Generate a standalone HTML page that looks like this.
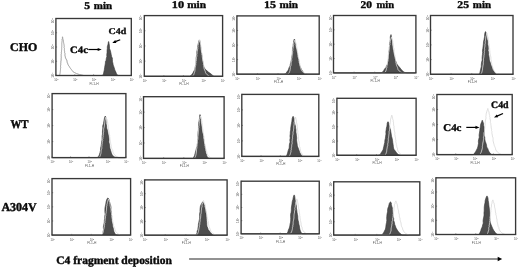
<!DOCTYPE html>
<html><head><meta charset="utf-8"><style>
html,body{margin:0;padding:0;background:#fff;}
body{width:520px;height:267px;overflow:hidden;}
svg{display:block;filter:blur(0.5px);}
.tk{font-family:"Liberation Sans",sans-serif;font-size:3.3px;fill:#5a5a5a;}
.sup{font-size:2.3px;}
.tk2{font-family:"Liberation Sans",sans-serif;font-size:2.7px;fill:#505050;}
.tm{stroke:#555;stroke-width:0.6;}
.lbl{font-family:"Liberation Serif",serif;font-weight:bold;font-size:100px;fill:#0a0a0a;stroke:#0a0a0a;stroke-width:3.5px;stroke-linejoin:round;text-rendering:geometricPrecision;}
</style></head><body>
<svg width="520" height="267" viewBox="0 0 520 267">
<rect width="520" height="267" fill="#fff"/>
<text x="56.5" y="81.1" class="tk2" text-anchor="middle">10<tspan dy="-1.1" class="sup">0</tspan></text>
<line x1="55.9" y1="75.5" x2="55.9" y2="74.3" class="tm"/>
<text x="75.35" y="81.1" class="tk2" text-anchor="middle">10<tspan dy="-1.1" class="sup">1</tspan></text>
<line x1="74.75" y1="75.5" x2="74.75" y2="74.3" class="tm"/>
<text x="94.2" y="81.1" class="tk2" text-anchor="middle">10<tspan dy="-1.1" class="sup">2</tspan></text>
<line x1="93.6" y1="75.5" x2="93.6" y2="74.3" class="tm"/>
<text x="113.05" y="81.1" class="tk2" text-anchor="middle">10<tspan dy="-1.1" class="sup">3</tspan></text>
<line x1="112.45" y1="75.5" x2="112.45" y2="74.3" class="tm"/>
<text x="131.9" y="81.1" class="tk2" text-anchor="middle">10<tspan dy="-1.1" class="sup">4</tspan></text>
<line x1="131.3" y1="75.5" x2="131.3" y2="74.3" class="tm"/>
<text x="94.1" y="84.5" class="tk" text-anchor="middle">FL1-H</text>
<text transform="translate(53.9 75.3) rotate(-90)" class="tk" text-anchor="middle">10<tspan dy="-0.9" class="sup">0</tspan></text>
<line x1="55.9" y1="75.5" x2="57.1" y2="75.5" class="tm"/>
<text transform="translate(53.9 61.05) rotate(-90)" class="tk" text-anchor="middle">10<tspan dy="-0.9" class="sup">1</tspan></text>
<line x1="55.9" y1="61.25" x2="57.1" y2="61.25" class="tm"/>
<text transform="translate(53.9 46.8) rotate(-90)" class="tk" text-anchor="middle">10<tspan dy="-0.9" class="sup">2</tspan></text>
<line x1="55.9" y1="47" x2="57.1" y2="47" class="tm"/>
<text transform="translate(53.9 32.55) rotate(-90)" class="tk" text-anchor="middle">10<tspan dy="-0.9" class="sup">3</tspan></text>
<line x1="55.9" y1="32.75" x2="57.1" y2="32.75" class="tm"/>
<text transform="translate(53.9 20.8) rotate(-90)" class="tk" text-anchor="middle">10<tspan dy="-0.9" class="sup">4</tspan></text>
<line x1="55.9" y1="18.5" x2="57.1" y2="18.5" class="tm"/>
<path d="M56.5 75.5 L101 75.5 L101.34 75.45 L101.83 75.46 L102.39 75.36 L102.96 74.93 L103.45 74 L103.75 72.31 L104.31 69.98 L104.61 67.4 L105.08 64.95 L105.41 63 L105.41 61.74 L105.62 60.91 L106.24 60.24 L106.14 59.46 L106.32 58.3 L106.87 56.64 L106.75 54.66 L107.07 52.53 L107.05 50.45 L107.32 48.6 L107.31 46.79 L107.83 44.89 L108.23 43.19 L108.33 41.97 L108.6 41.5 L108.82 41.97 L109.02 43.19 L109.32 44.89 L109.52 46.79 L109.53 48.6 L110.33 50.45 L110.8 52.53 L111.24 54.66 L111.63 56.64 L112.43 58.3 L112.39 59.46 L112.5 60.24 L112.53 60.91 L112.49 61.74 L112.86 63 L113.16 64.95 L114.13 67.4 L114.83 69.98 L115.96 72.31 L116.55 74 L117.32 74.93 L118.13 75.36 L118.89 75.46 L119.54 75.45 L120 75.5 L130.7 75.5 Z" fill="#4e4e4e" stroke="#353535" stroke-width="0.6" stroke-linejoin="round"/>
<path d="M56.5 75.5 L59.38 75.5 L59.81 74.53 L60.03 73.56 L60.16 72.6 L60.29 71.63 L60.38 70.66 L60.49 69.69 L60.48 68.73 L60.73 67.76 L60.56 66.79 L60.52 65.83 L60.8 64.86 L60.68 63.89 L60.89 62.92 L60.83 61.95 L60.96 60.99 L61.15 60.02 L61.14 59.05 L61.15 58.09 L61.3 57.12 L61.12 56.15 L61.21 55.18 L61.13 54.21 L61.48 53.25 L61.3 52.28 L61.56 51.31 L61.56 50.34 L61.68 49.38 L61.71 48.41 L61.68 47.44 L61.8 46.47 L61.79 45.51 L61.81 44.54 L61.77 43.57 L61.89 42.6 L61.99 41.64 L62.18 40.67 L61.98 39.7 L62.4 38.73 L62.37 37.77 L62.5 36.8 L62.73 37.77 L62.81 38.73 L63.09 39.7 L63.41 40.67 L63.46 41.64 L63.6 42.6 L63.78 43.57 L64.01 44.54 L64.13 45.51 L64.26 46.47 L64.03 47.44 L64.45 48.41 L64.4 49.38 L64.36 50.34 L64.61 51.31 L64.51 52.28 L64.98 53.25 L65.01 54.21 L64.86 55.18 L65.21 56.15 L65.27 57.12 L65.62 58.09 L66.09 59.05 L66.7 60.02 L67.05 60.99 L67.04 61.95 L67.37 62.92 L67.87 63.89 L68.12 64.86 L68.76 65.83 L69.51 66.79 L69.99 67.76 L70.76 68.73 L71.51 69.69 L72.23 70.66 L72.9 71.63 L74.66 72.6 L76.41 73.56 L79.34 74.53 L83.82 75.5 L130.7 75.5" fill="none" stroke="#a0a0a0" stroke-width="1" stroke-linejoin="round"/>
<rect x="55.9" y="18.5" width="75.4" height="57" fill="none" stroke="#383838" stroke-width="1.35"/>
<text x="144.9" y="81.9" class="tk2" text-anchor="middle">10<tspan dy="-1.1" class="sup">0</tspan></text>
<line x1="144.3" y1="76.3" x2="144.3" y2="75.1" class="tm"/>
<text x="164.47" y="81.9" class="tk2" text-anchor="middle">10<tspan dy="-1.1" class="sup">1</tspan></text>
<line x1="163.88" y1="76.3" x2="163.88" y2="75.1" class="tm"/>
<text x="184.05" y="81.9" class="tk2" text-anchor="middle">10<tspan dy="-1.1" class="sup">2</tspan></text>
<line x1="183.45" y1="76.3" x2="183.45" y2="75.1" class="tm"/>
<text x="203.62" y="81.9" class="tk2" text-anchor="middle">10<tspan dy="-1.1" class="sup">3</tspan></text>
<line x1="203.03" y1="76.3" x2="203.03" y2="75.1" class="tm"/>
<text x="223.2" y="81.9" class="tk2" text-anchor="middle">10<tspan dy="-1.1" class="sup">4</tspan></text>
<line x1="222.6" y1="76.3" x2="222.6" y2="75.1" class="tm"/>
<text x="183.95" y="85.3" class="tk" text-anchor="middle">FL1-H</text>
<text transform="translate(142.3 76.1) rotate(-90)" class="tk" text-anchor="middle">10<tspan dy="-0.9" class="sup">0</tspan></text>
<line x1="144.3" y1="76.3" x2="145.5" y2="76.3" class="tm"/>
<text transform="translate(142.3 60.92) rotate(-90)" class="tk" text-anchor="middle">10<tspan dy="-0.9" class="sup">1</tspan></text>
<line x1="144.3" y1="61.12" x2="145.5" y2="61.12" class="tm"/>
<text transform="translate(142.3 45.75) rotate(-90)" class="tk" text-anchor="middle">10<tspan dy="-0.9" class="sup">2</tspan></text>
<line x1="144.3" y1="45.95" x2="145.5" y2="45.95" class="tm"/>
<text transform="translate(142.3 30.57) rotate(-90)" class="tk" text-anchor="middle">10<tspan dy="-0.9" class="sup">3</tspan></text>
<line x1="144.3" y1="30.77" x2="145.5" y2="30.77" class="tm"/>
<text transform="translate(142.3 17.9) rotate(-90)" class="tk" text-anchor="middle">10<tspan dy="-0.9" class="sup">4</tspan></text>
<line x1="144.3" y1="15.6" x2="145.5" y2="15.6" class="tm"/>
<path d="M144.9 76.3 L189.7 76.3 L190.02 76.05 L190.48 75.72 L191.01 75.3 L191.59 74.73 L192.15 74 L192.96 73.1 L193.4 72.06 L194.02 70.87 L194.77 69.52 L195.02 68 L195.41 66.26 L196 64.29 L195.97 62.19 L196.17 60.06 L196.11 58 L196.52 55.97 L196.8 53.91 L196.71 51.86 L197.24 49.88 L197.52 48 L197.58 46 L198.27 43.85 L198.61 41.88 L199.04 40.45 L199.4 39.9 L199.69 40.45 L200.03 41.88 L200.09 43.85 L200.5 46 L200.77 48 L200.68 49.88 L200.97 51.86 L201.57 53.91 L202.03 55.97 L202.03 58 L202.47 60.06 L202.85 62.19 L203.09 64.29 L203.63 66.26 L204.36 68 L205.49 69.52 L207 70.87 L208.37 72.06 L209.83 73.1 L211.05 74 L211.92 74.73 L212.63 75.3 L213.21 75.72 L213.66 76.05 L214 76.3 L222 76.3 Z" fill="#4e4e4e" stroke="#353535" stroke-width="0.6" stroke-linejoin="round"/>
<path d="M144.9 76.3 L192.3 76.3 L193.3 75.39 L193.8 74.48 L194.1 73.58 L194.4 72.67 L194.73 71.76 L194.88 70.85 L195 69.95 L195.08 69.04 L195.09 68.13 L195.28 67.22 L195.54 66.32 L195.69 65.41 L195.87 64.5 L195.79 63.59 L196.08 62.69 L195.85 61.78 L196.33 60.87 L196.24 59.97 L196.32 59.06 L196.62 58.15 L196.46 57.24 L196.84 56.33 L196.94 55.43 L196.8 54.52 L197.16 53.61 L197.15 52.7 L197.14 51.8 L197.51 50.89 L197.39 49.98 L197.71 49.08 L197.83 48.17 L197.75 47.26 L198.03 46.35 L197.95 45.45 L198.33 44.54 L198.26 43.63 L198.65 42.72 L199.03 41.82 L199.21 40.91 L199.5 40 L199.77 40.91 L199.85 41.82 L200.4 42.72 L200.47 43.63 L200.6 44.54 L200.79 45.45 L200.78 46.35 L200.99 47.26 L201.16 48.17 L201.17 49.08 L201.48 49.98 L201.52 50.89 L201.51 51.8 L201.66 52.7 L202.04 53.61 L201.93 54.52 L202.2 55.43 L202.2 56.33 L202.3 57.24 L202.41 58.15 L202.6 59.06 L202.73 59.97 L202.77 60.87 L203.22 61.78 L203.37 62.69 L203.49 63.59 L203.33 64.5 L203.71 65.41 L203.72 66.32 L203.79 67.22 L203.95 68.13 L204.31 69.04 L204.49 69.95 L205.03 70.85 L205.38 71.76 L205.5 72.67 L206.18 73.58 L206.85 74.48 L207.97 75.39 L209.7 76.3 L222 76.3" fill="none" stroke="#d9d9d9" stroke-width="0.85" stroke-linejoin="round"/>
<rect x="144.3" y="15.6" width="78.3" height="60.7" fill="none" stroke="#383838" stroke-width="1.35"/>
<text x="237.5" y="79.8" class="tk2" text-anchor="middle">10<tspan dy="-1.1" class="sup">0</tspan></text>
<line x1="236.9" y1="74.2" x2="236.9" y2="73" class="tm"/>
<text x="258.08" y="79.8" class="tk2" text-anchor="middle">10<tspan dy="-1.1" class="sup">1</tspan></text>
<line x1="257.48" y1="74.2" x2="257.48" y2="73" class="tm"/>
<text x="278.65" y="79.8" class="tk2" text-anchor="middle">10<tspan dy="-1.1" class="sup">2</tspan></text>
<line x1="278.05" y1="74.2" x2="278.05" y2="73" class="tm"/>
<text x="299.23" y="79.8" class="tk2" text-anchor="middle">10<tspan dy="-1.1" class="sup">3</tspan></text>
<line x1="298.62" y1="74.2" x2="298.62" y2="73" class="tm"/>
<text x="319.8" y="79.8" class="tk2" text-anchor="middle">10<tspan dy="-1.1" class="sup">4</tspan></text>
<line x1="319.2" y1="74.2" x2="319.2" y2="73" class="tm"/>
<text x="278.55" y="83.2" class="tk" text-anchor="middle">FL1-H</text>
<text transform="translate(234.9 74) rotate(-90)" class="tk" text-anchor="middle">10<tspan dy="-0.9" class="sup">0</tspan></text>
<line x1="236.9" y1="74.2" x2="238.1" y2="74.2" class="tm"/>
<text transform="translate(234.9 59.42) rotate(-90)" class="tk" text-anchor="middle">10<tspan dy="-0.9" class="sup">1</tspan></text>
<line x1="236.9" y1="59.62" x2="238.1" y2="59.62" class="tm"/>
<text transform="translate(234.9 44.85) rotate(-90)" class="tk" text-anchor="middle">10<tspan dy="-0.9" class="sup">2</tspan></text>
<line x1="236.9" y1="45.05" x2="238.1" y2="45.05" class="tm"/>
<text transform="translate(234.9 30.28) rotate(-90)" class="tk" text-anchor="middle">10<tspan dy="-0.9" class="sup">3</tspan></text>
<line x1="236.9" y1="30.48" x2="238.1" y2="30.48" class="tm"/>
<text transform="translate(234.9 18.2) rotate(-90)" class="tk" text-anchor="middle">10<tspan dy="-0.9" class="sup">4</tspan></text>
<line x1="236.9" y1="15.9" x2="238.1" y2="15.9" class="tm"/>
<path d="M237.5 74.2 L283.8 74.2 L284.11 74.1 L284.54 74 L285.06 73.82 L285.64 73.45 L286.25 72.8 L286.94 71.83 L287.93 70.6 L288.58 69.18 L289.06 67.63 L290.07 66 L290.29 64.27 L290.78 62.4 L291.32 60.43 L291.56 58.42 L291.81 56.4 L292.34 54.32 L292.39 52.13 L292.44 49.95 L292.6 47.88 L293.13 46 L293.21 44.16 L293.67 42.28 L293.76 40.63 L294.13 39.45 L294.4 39 L294.62 39.45 L294.64 40.63 L294.98 42.28 L295.33 44.16 L295.29 46 L295.96 47.88 L296.45 49.95 L296.86 52.13 L297.35 54.32 L297.4 56.4 L298.14 58.42 L298.67 60.43 L298.69 62.4 L299.28 64.27 L299.83 66 L300.64 67.63 L301.35 69.18 L302.18 70.6 L303 71.83 L303.75 72.8 L304.49 73.45 L305.25 73.82 L305.96 74 L306.57 74.1 L307 74.2 L318.6 74.2 Z" fill="#4e4e4e" stroke="#353535" stroke-width="0.6" stroke-linejoin="round"/>
<path d="M237.5 74.2 L287.8 74.2 L288.8 73.34 L289.3 72.49 L289.6 71.64 L289.9 70.78 L290.21 69.92 L290.06 69.07 L290.49 68.22 L290.34 67.36 L290.54 66.5 L290.95 65.65 L291.09 64.8 L291.15 63.94 L291.05 63.09 L291.22 62.23 L291.59 61.38 L291.72 60.52 L291.63 59.66 L291.6 58.81 L291.9 57.95 L291.98 57.1 L292.07 56.25 L292.21 55.39 L292.29 54.54 L292.55 53.68 L292.65 52.83 L292.59 51.97 L292.58 51.11 L292.94 50.26 L292.81 49.41 L292.94 48.55 L293.23 47.7 L293.26 46.84 L293.38 45.98 L293.41 45.13 L293.89 44.27 L293.68 43.42 L293.95 42.56 L294.53 41.71 L294.71 40.86 L295 40 L295.31 40.86 L295.41 41.71 L295.77 42.56 L296.05 43.42 L296.5 44.27 L296.5 45.13 L296.56 45.98 L296.83 46.84 L296.85 47.7 L296.97 48.55 L297.2 49.41 L297.26 50.26 L297.32 51.11 L297.63 51.97 L297.67 52.83 L297.91 53.68 L297.94 54.54 L298.21 55.39 L298.34 56.25 L298.3 57.1 L298.63 57.95 L298.68 58.81 L299.01 59.66 L298.96 60.52 L299.28 61.38 L299.3 62.23 L299.6 63.09 L299.78 63.94 L299.84 64.8 L299.96 65.65 L300.28 66.5 L300.41 67.36 L300.68 68.22 L301.02 69.07 L301.36 69.92 L301.8 70.78 L302.56 71.64 L303.33 72.49 L304.61 73.34 L306.56 74.2 L318.6 74.2" fill="none" stroke="#d9d9d9" stroke-width="0.85" stroke-linejoin="round"/>
<rect x="236.9" y="15.9" width="82.3" height="58.3" fill="none" stroke="#383838" stroke-width="1.35"/>
<text x="334.1" y="78.5" class="tk2" text-anchor="middle">10<tspan dy="-1.1" class="sup">0</tspan></text>
<line x1="333.5" y1="72.9" x2="333.5" y2="71.7" class="tm"/>
<text x="354.7" y="78.5" class="tk2" text-anchor="middle">10<tspan dy="-1.1" class="sup">1</tspan></text>
<line x1="354.1" y1="72.9" x2="354.1" y2="71.7" class="tm"/>
<text x="375.3" y="78.5" class="tk2" text-anchor="middle">10<tspan dy="-1.1" class="sup">2</tspan></text>
<line x1="374.7" y1="72.9" x2="374.7" y2="71.7" class="tm"/>
<text x="395.9" y="78.5" class="tk2" text-anchor="middle">10<tspan dy="-1.1" class="sup">3</tspan></text>
<line x1="395.3" y1="72.9" x2="395.3" y2="71.7" class="tm"/>
<text x="416.5" y="78.5" class="tk2" text-anchor="middle">10<tspan dy="-1.1" class="sup">4</tspan></text>
<line x1="415.9" y1="72.9" x2="415.9" y2="71.7" class="tm"/>
<text x="375.2" y="81.9" class="tk" text-anchor="middle">FL1-H</text>
<text transform="translate(331.5 72.7) rotate(-90)" class="tk" text-anchor="middle">10<tspan dy="-0.9" class="sup">0</tspan></text>
<line x1="333.5" y1="72.9" x2="334.7" y2="72.9" class="tm"/>
<text transform="translate(331.5 58.35) rotate(-90)" class="tk" text-anchor="middle">10<tspan dy="-0.9" class="sup">1</tspan></text>
<line x1="333.5" y1="58.55" x2="334.7" y2="58.55" class="tm"/>
<text transform="translate(331.5 44) rotate(-90)" class="tk" text-anchor="middle">10<tspan dy="-0.9" class="sup">2</tspan></text>
<line x1="333.5" y1="44.2" x2="334.7" y2="44.2" class="tm"/>
<text transform="translate(331.5 29.65) rotate(-90)" class="tk" text-anchor="middle">10<tspan dy="-0.9" class="sup">3</tspan></text>
<line x1="333.5" y1="29.85" x2="334.7" y2="29.85" class="tm"/>
<text transform="translate(331.5 17.8) rotate(-90)" class="tk" text-anchor="middle">10<tspan dy="-0.9" class="sup">4</tspan></text>
<line x1="333.5" y1="15.5" x2="334.7" y2="15.5" class="tm"/>
<path d="M334.1 72.9 L380.5 72.9 L380.8 72.81 L381.21 72.73 L381.7 72.57 L382.29 72.19 L382.95 71.5 L383.77 70.44 L384.51 69.08 L385.94 67.5 L386.52 65.78 L387.62 64 L388.04 62.09 L388.47 60.01 L388.78 57.84 L388.79 55.68 L389.1 53.6 L388.9 51.63 L389.39 49.69 L389.37 47.79 L389.59 45.89 L389.45 44 L390.01 41.81 L390.37 39.32 L390.22 37 L390.73 35.27 L391 34.6 L391.24 35.27 L391.37 37 L391.71 39.32 L392.06 41.81 L392.02 44 L392.24 45.89 L392.51 47.79 L392.95 49.69 L393.35 51.63 L393.6 53.6 L394.1 55.68 L394.68 57.84 L395.32 60.01 L396.11 62.09 L396.84 64 L398.17 65.78 L399.72 67.5 L400.84 69.08 L402.21 70.44 L403.35 71.5 L404.31 72.19 L405.18 72.57 L405.93 72.73 L406.55 72.81 L407 72.9 L415.3 72.9 Z" fill="#4e4e4e" stroke="#353535" stroke-width="0.6" stroke-linejoin="round"/>
<path d="M334.1 72.9 L384.3 72.9 L385.3 72 L385.8 71.11 L386.1 70.21 L386.4 69.31 L386.46 68.41 L386.86 67.52 L386.75 66.62 L386.92 65.72 L387.34 64.82 L387.43 63.93 L387.37 63.03 L387.57 62.13 L387.8 61.23 L387.96 60.34 L387.92 59.44 L388.17 58.54 L388.15 57.64 L388.26 56.75 L388.24 55.85 L388.43 54.95 L388.48 54.05 L388.7 53.16 L388.71 52.26 L388.96 51.36 L389 50.46 L389.06 49.56 L389.32 48.67 L389.28 47.77 L389.34 46.87 L389.44 45.98 L389.67 45.08 L389.99 44.18 L389.79 43.28 L390.24 42.39 L390.2 41.49 L390.4 40.59 L390.7 39.69 L391.02 38.8 L391.21 37.9 L391.5 37 L391.79 37.9 L391.94 38.8 L392.47 39.69 L392.66 40.59 L392.84 41.49 L392.77 42.39 L393.14 43.28 L393.17 44.18 L393.38 45.08 L393.33 45.98 L393.58 46.87 L393.57 47.77 L393.99 48.67 L394.01 49.56 L394.2 50.46 L394.09 51.36 L394.13 52.26 L394.4 53.16 L394.52 54.05 L394.81 54.95 L395.04 55.85 L395.03 56.75 L395.27 57.64 L395.3 58.54 L395.51 59.44 L395.52 60.34 L395.89 61.23 L395.74 62.13 L396.08 63.03 L396.32 63.93 L396.33 64.82 L396.63 65.72 L397.1 66.62 L397.47 67.52 L397.75 68.41 L397.9 69.31 L398.62 70.21 L399.34 71.11 L400.54 72 L402.38 72.9 L415.3 72.9" fill="none" stroke="#d9d9d9" stroke-width="0.85" stroke-linejoin="round"/>
<rect x="333.5" y="15.5" width="82.4" height="57.4" fill="none" stroke="#383838" stroke-width="1.35"/>
<text x="431.1" y="79.9" class="tk2" text-anchor="middle">10<tspan dy="-1.1" class="sup">0</tspan></text>
<line x1="430.5" y1="74.3" x2="430.5" y2="73.1" class="tm"/>
<text x="451.73" y="79.9" class="tk2" text-anchor="middle">10<tspan dy="-1.1" class="sup">1</tspan></text>
<line x1="451.12" y1="74.3" x2="451.12" y2="73.1" class="tm"/>
<text x="472.35" y="79.9" class="tk2" text-anchor="middle">10<tspan dy="-1.1" class="sup">2</tspan></text>
<line x1="471.75" y1="74.3" x2="471.75" y2="73.1" class="tm"/>
<text x="492.98" y="79.9" class="tk2" text-anchor="middle">10<tspan dy="-1.1" class="sup">3</tspan></text>
<line x1="492.38" y1="74.3" x2="492.38" y2="73.1" class="tm"/>
<text x="513.6" y="79.9" class="tk2" text-anchor="middle">10<tspan dy="-1.1" class="sup">4</tspan></text>
<line x1="513" y1="74.3" x2="513" y2="73.1" class="tm"/>
<text x="472.25" y="83.3" class="tk" text-anchor="middle">FL1-H</text>
<text transform="translate(428.5 74.1) rotate(-90)" class="tk" text-anchor="middle">10<tspan dy="-0.9" class="sup">0</tspan></text>
<line x1="430.5" y1="74.3" x2="431.7" y2="74.3" class="tm"/>
<text transform="translate(428.5 59.4) rotate(-90)" class="tk" text-anchor="middle">10<tspan dy="-0.9" class="sup">1</tspan></text>
<line x1="430.5" y1="59.6" x2="431.7" y2="59.6" class="tm"/>
<text transform="translate(428.5 44.7) rotate(-90)" class="tk" text-anchor="middle">10<tspan dy="-0.9" class="sup">2</tspan></text>
<line x1="430.5" y1="44.9" x2="431.7" y2="44.9" class="tm"/>
<text transform="translate(428.5 30) rotate(-90)" class="tk" text-anchor="middle">10<tspan dy="-0.9" class="sup">3</tspan></text>
<line x1="430.5" y1="30.2" x2="431.7" y2="30.2" class="tm"/>
<text transform="translate(428.5 17.8) rotate(-90)" class="tk" text-anchor="middle">10<tspan dy="-0.9" class="sup">4</tspan></text>
<line x1="430.5" y1="15.5" x2="431.7" y2="15.5" class="tm"/>
<path d="M431.1 74.3 L477.4 74.3 L477.74 74.24 L478.23 74.25 L478.78 74.14 L479.35 73.72 L479.85 72.8 L480.21 71.21 L480.71 69.08 L481.28 66.67 L481.33 64.22 L481.65 62 L482.23 60.05 L482.1 58.2 L482.23 56.38 L482.45 54.53 L482.64 52.6 L482.49 50.55 L482.84 48.44 L483.1 46.28 L483.37 44.13 L483.51 42 L484.01 39.57 L484.55 36.83 L484.65 34.25 L485.1 32.35 L485.5 31.6 L485.93 32.35 L486.43 34.25 L486.68 36.83 L487.19 39.57 L487.73 42 L487.69 44.13 L488.23 46.28 L488.35 48.44 L488.07 50.55 L488.67 52.6 L488.59 54.53 L488.98 56.38 L489.21 58.2 L489.33 60.05 L490.04 62 L490.78 64.22 L491.81 66.67 L492.59 69.08 L493.9 71.21 L494.75 72.8 L495.7 73.72 L496.69 74.14 L497.63 74.25 L498.43 74.24 L499 74.3 L512.4 74.3 Z" fill="#4e4e4e" stroke="#353535" stroke-width="0.6" stroke-linejoin="round"/>
<path d="M431.1 74.3 L480.56 74.3 L481.43 73.27 L481.86 72.23 L482.12 71.2 L482.38 70.17 L482.63 69.14 L482.54 68.1 L482.81 67.07 L482.89 66.04 L483.11 65.01 L483.34 63.97 L483.28 62.94 L483.28 61.91 L483.62 60.88 L483.45 59.84 L483.55 58.81 L483.75 57.78 L483.92 56.75 L483.94 55.72 L484.21 54.68 L484.2 53.65 L484.44 52.62 L484.29 51.58 L484.57 50.55 L484.67 49.52 L484.49 48.49 L484.68 47.45 L484.91 46.42 L484.98 45.39 L484.96 44.36 L485.3 43.33 L485.3 42.29 L485.22 41.26 L485.51 40.23 L485.59 39.2 L485.76 38.16 L485.79 37.13 L486.06 36.1 L486.48 35.07 L486.55 34.03 L486.8 33 L487.11 34.03 L487.48 35.07 L487.56 36.1 L487.96 37.13 L488.23 38.16 L488.17 39.2 L488.48 40.23 L488.72 41.26 L488.55 42.29 L488.7 43.33 L489.06 44.36 L489.13 45.39 L489.23 46.42 L489.25 47.45 L489.61 48.49 L489.67 49.52 L489.74 50.55 L489.88 51.58 L489.88 52.62 L490.1 53.65 L490.29 54.68 L490.47 55.72 L490.77 56.75 L490.95 57.78 L490.87 58.81 L490.96 59.84 L491.36 60.88 L491.3 61.91 L491.67 62.94 L491.83 63.97 L491.9 65.01 L492.23 66.04 L492.69 67.07 L492.88 68.1 L493.1 69.14 L493.6 70.17 L494.37 71.2 L495.13 72.23 L496.41 73.27 L498.36 74.3 L512.4 74.3" fill="none" stroke="#d9d9d9" stroke-width="0.85" stroke-linejoin="round"/>
<rect x="430.5" y="15.5" width="82.5" height="58.8" fill="none" stroke="#383838" stroke-width="1.35"/>
<text x="52.7" y="163.2" class="tk2" text-anchor="middle">10<tspan dy="-1.1" class="sup">0</tspan></text>
<line x1="52.1" y1="157.6" x2="52.1" y2="156.4" class="tm"/>
<text x="71.15" y="163.2" class="tk2" text-anchor="middle">10<tspan dy="-1.1" class="sup">1</tspan></text>
<line x1="70.55" y1="157.6" x2="70.55" y2="156.4" class="tm"/>
<text x="89.6" y="163.2" class="tk2" text-anchor="middle">10<tspan dy="-1.1" class="sup">2</tspan></text>
<line x1="89" y1="157.6" x2="89" y2="156.4" class="tm"/>
<text x="108.05" y="163.2" class="tk2" text-anchor="middle">10<tspan dy="-1.1" class="sup">3</tspan></text>
<line x1="107.45" y1="157.6" x2="107.45" y2="156.4" class="tm"/>
<text x="126.5" y="163.2" class="tk2" text-anchor="middle">10<tspan dy="-1.1" class="sup">4</tspan></text>
<line x1="125.9" y1="157.6" x2="125.9" y2="156.4" class="tm"/>
<text x="89.5" y="166.6" class="tk" text-anchor="middle">FL1-H</text>
<text transform="translate(50.1 157.4) rotate(-90)" class="tk" text-anchor="middle">10<tspan dy="-0.9" class="sup">0</tspan></text>
<line x1="52.1" y1="157.6" x2="53.3" y2="157.6" class="tm"/>
<text transform="translate(50.1 141.4) rotate(-90)" class="tk" text-anchor="middle">10<tspan dy="-0.9" class="sup">1</tspan></text>
<line x1="52.1" y1="141.6" x2="53.3" y2="141.6" class="tm"/>
<text transform="translate(50.1 125.4) rotate(-90)" class="tk" text-anchor="middle">10<tspan dy="-0.9" class="sup">2</tspan></text>
<line x1="52.1" y1="125.6" x2="53.3" y2="125.6" class="tm"/>
<text transform="translate(50.1 109.4) rotate(-90)" class="tk" text-anchor="middle">10<tspan dy="-0.9" class="sup">3</tspan></text>
<line x1="52.1" y1="109.6" x2="53.3" y2="109.6" class="tm"/>
<text transform="translate(50.1 95.9) rotate(-90)" class="tk" text-anchor="middle">10<tspan dy="-0.9" class="sup">4</tspan></text>
<line x1="52.1" y1="93.6" x2="53.3" y2="93.6" class="tm"/>
<path d="M52.7 157.6 L96.4 157.6 L96.74 157.48 L97.22 157.39 L97.77 157.18 L98.34 156.7 L98.85 155.8 L99.48 154.36 L100 152.47 L100.49 150.32 L100.63 148.1 L101.08 146 L101.39 144.01 L101.65 142.01 L102.02 140.01 L102.06 138 L102.05 136 L102.48 134 L102.41 132 L102.58 130 L102.81 128 L102.7 126 L103.47 123.68 L103.91 121.04 L104.36 118.56 L104.88 116.72 L105.3 116 L105.61 116.72 L105.86 118.56 L106.04 121.04 L106.12 123.68 L106.56 126 L106.67 128 L107.3 130 L107.79 132 L108.08 134 L108.48 136 L108.91 138 L109.03 140.01 L108.8 142.01 L109.34 144.01 L109.61 146 L109.83 148.1 L110.6 150.32 L111.23 152.47 L111.92 154.36 L112.95 155.8 L113.94 156.7 L115.09 157.18 L116.26 157.39 L117.29 157.48 L118 157.6 L125.3 157.6 Z" fill="#4e4e4e" stroke="#353535" stroke-width="0.6" stroke-linejoin="round"/>
<path d="M52.7 157.6 L98.8 157.6 L99.8 156.58 L100.3 155.57 L100.6 154.56 L100.9 153.54 L101.05 152.53 L101.11 151.51 L101.19 150.5 L101.5 149.48 L101.78 148.47 L101.84 147.45 L101.8 146.44 L101.96 145.42 L102.01 144.41 L102.28 143.39 L102.31 142.38 L102.53 141.36 L102.77 140.34 L102.57 139.33 L102.92 138.31 L102.95 137.3 L103.19 136.28 L103.09 135.27 L103.42 134.25 L103.35 133.24 L103.5 132.22 L103.72 131.21 L103.61 130.19 L103.68 129.18 L103.8 128.16 L104.17 127.15 L104.34 126.13 L104.44 125.12 L104.54 124.11 L104.75 123.09 L104.85 122.08 L104.91 121.06 L105.05 120.04 L105.43 119.03 L105.71 118.02 L106 117 L106.34 118.02 L106.86 119.03 L107.17 120.04 L107.22 121.06 L107.56 122.08 L107.76 123.09 L107.76 124.11 L108.15 125.12 L108.1 126.13 L108.27 127.15 L108.25 128.16 L108.46 129.18 L108.73 130.19 L108.9 131.21 L109.1 132.22 L109.18 133.24 L109.3 134.25 L109.66 135.27 L109.59 136.28 L109.81 137.3 L109.86 138.31 L110.03 139.33 L110.17 140.34 L110.36 141.36 L110.52 142.38 L110.69 143.39 L110.84 144.41 L111.16 145.42 L111.15 146.44 L111.47 147.45 L111.68 148.47 L112.17 149.48 L112.74 150.5 L112.74 151.51 L113.12 152.53 L113.6 153.54 L114.45 154.56 L115.31 155.57 L116.73 156.58 L118.92 157.6 L125.3 157.6" fill="none" stroke="#d9d9d9" stroke-width="0.85" stroke-linejoin="round"/>
<rect x="52.1" y="93.6" width="73.8" height="64" fill="none" stroke="#383838" stroke-width="1.35"/>
<text x="144.1" y="164" class="tk2" text-anchor="middle">10<tspan dy="-1.1" class="sup">0</tspan></text>
<line x1="143.5" y1="158.4" x2="143.5" y2="157.2" class="tm"/>
<text x="164.25" y="164" class="tk2" text-anchor="middle">10<tspan dy="-1.1" class="sup">1</tspan></text>
<line x1="163.65" y1="158.4" x2="163.65" y2="157.2" class="tm"/>
<text x="184.4" y="164" class="tk2" text-anchor="middle">10<tspan dy="-1.1" class="sup">2</tspan></text>
<line x1="183.8" y1="158.4" x2="183.8" y2="157.2" class="tm"/>
<text x="204.55" y="164" class="tk2" text-anchor="middle">10<tspan dy="-1.1" class="sup">3</tspan></text>
<line x1="203.95" y1="158.4" x2="203.95" y2="157.2" class="tm"/>
<text x="224.7" y="164" class="tk2" text-anchor="middle">10<tspan dy="-1.1" class="sup">4</tspan></text>
<line x1="224.1" y1="158.4" x2="224.1" y2="157.2" class="tm"/>
<text x="184.3" y="167.4" class="tk" text-anchor="middle">FL1-H</text>
<text transform="translate(141.5 158.2) rotate(-90)" class="tk" text-anchor="middle">10<tspan dy="-0.9" class="sup">0</tspan></text>
<line x1="143.5" y1="158.4" x2="144.7" y2="158.4" class="tm"/>
<text transform="translate(141.5 142.78) rotate(-90)" class="tk" text-anchor="middle">10<tspan dy="-0.9" class="sup">1</tspan></text>
<line x1="143.5" y1="142.97" x2="144.7" y2="142.97" class="tm"/>
<text transform="translate(141.5 127.35) rotate(-90)" class="tk" text-anchor="middle">10<tspan dy="-0.9" class="sup">2</tspan></text>
<line x1="143.5" y1="127.55" x2="144.7" y2="127.55" class="tm"/>
<text transform="translate(141.5 111.92) rotate(-90)" class="tk" text-anchor="middle">10<tspan dy="-0.9" class="sup">3</tspan></text>
<line x1="143.5" y1="112.12" x2="144.7" y2="112.12" class="tm"/>
<text transform="translate(141.5 99) rotate(-90)" class="tk" text-anchor="middle">10<tspan dy="-0.9" class="sup">4</tspan></text>
<line x1="143.5" y1="96.7" x2="144.7" y2="96.7" class="tm"/>
<path d="M144.1 158.4 L191.4 158.4 L191.72 158.36 L192.16 158.4 L192.69 158.32 L193.27 157.92 L193.85 157 L194.56 155.4 L195.15 153.24 L195.78 150.79 L196.41 148.29 L197.26 146 L197.36 143.94 L197.8 141.93 L197.75 139.95 L198.06 137.98 L197.85 136 L197.94 134.02 L198.05 132.07 L198.42 130.1 L198.44 128.09 L198.47 126 L198.58 123.44 L199.16 120.45 L199.61 117.59 L199.69 115.44 L200 114.6 L200.3 115.44 L200.66 117.59 L200.68 120.45 L201.01 123.44 L201.35 126 L201.69 128.09 L201.92 130.1 L202.23 132.07 L202.83 134.02 L203.25 136 L203.18 137.98 L203.82 139.95 L203.84 141.93 L204.32 143.94 L204.76 146 L205.22 148.29 L205.25 150.79 L205.94 153.24 L206.7 155.4 L207.35 157 L208.24 157.92 L209.3 158.32 L210.39 158.4 L211.34 158.36 L212 158.4 L223.5 158.4 Z" fill="#4e4e4e" stroke="#353535" stroke-width="0.6" stroke-linejoin="round"/>
<path d="M144.1 158.4 L194.26 158.4 L195.13 157.34 L195.56 156.28 L195.82 155.22 L196.08 154.16 L196.23 153.1 L196.4 152.04 L196.46 150.98 L196.52 149.92 L196.67 148.86 L196.95 147.8 L196.87 146.74 L197.01 145.68 L197.04 144.62 L197.33 143.56 L197.59 142.5 L197.33 141.44 L197.54 140.38 L197.86 139.32 L197.95 138.26 L197.96 137.2 L197.89 136.14 L198.16 135.08 L198.16 134.02 L198.35 132.96 L198.36 131.9 L198.54 130.84 L198.63 129.78 L198.55 128.72 L198.84 127.66 L198.79 126.6 L199.1 125.54 L199.18 124.48 L199.25 123.42 L199.44 122.36 L199.31 121.3 L199.33 120.24 L199.66 119.18 L200.17 118.12 L200.25 117.06 L200.5 116 L200.81 117.06 L200.95 118.12 L201.56 119.18 L201.68 120.24 L201.93 121.3 L201.87 122.36 L202.23 123.42 L202.29 124.48 L202.35 125.54 L202.43 126.6 L202.67 127.66 L202.68 128.72 L202.99 129.78 L203.04 130.84 L203.08 131.9 L203.17 132.96 L203.6 134.02 L203.47 135.08 L203.9 136.14 L204.05 137.2 L204.03 138.26 L204.3 139.32 L204.31 140.38 L204.47 141.44 L204.51 142.5 L204.66 143.56 L205.03 144.62 L204.94 145.68 L205.33 146.74 L205.23 147.8 L205.93 148.86 L206.08 149.92 L206.48 150.98 L206.79 152.04 L206.86 153.1 L207.3 154.16 L208.06 155.22 L208.83 156.28 L210.1 157.34 L212.06 158.4 L223.5 158.4" fill="none" stroke="#d9d9d9" stroke-width="0.85" stroke-linejoin="round"/>
<rect x="143.5" y="96.7" width="80.6" height="61.7" fill="none" stroke="#383838" stroke-width="1.35"/>
<text x="242.4" y="162" class="tk2" text-anchor="middle">10<tspan dy="-1.1" class="sup">0</tspan></text>
<line x1="241.8" y1="156.4" x2="241.8" y2="155.2" class="tm"/>
<text x="261.65" y="162" class="tk2" text-anchor="middle">10<tspan dy="-1.1" class="sup">1</tspan></text>
<line x1="261.05" y1="156.4" x2="261.05" y2="155.2" class="tm"/>
<text x="280.9" y="162" class="tk2" text-anchor="middle">10<tspan dy="-1.1" class="sup">2</tspan></text>
<line x1="280.3" y1="156.4" x2="280.3" y2="155.2" class="tm"/>
<text x="300.15" y="162" class="tk2" text-anchor="middle">10<tspan dy="-1.1" class="sup">3</tspan></text>
<line x1="299.55" y1="156.4" x2="299.55" y2="155.2" class="tm"/>
<text x="319.4" y="162" class="tk2" text-anchor="middle">10<tspan dy="-1.1" class="sup">4</tspan></text>
<line x1="318.8" y1="156.4" x2="318.8" y2="155.2" class="tm"/>
<text x="280.8" y="165.4" class="tk" text-anchor="middle">FL1-H</text>
<text transform="translate(239.8 156.2) rotate(-90)" class="tk" text-anchor="middle">10<tspan dy="-0.9" class="sup">0</tspan></text>
<line x1="241.8" y1="156.4" x2="243" y2="156.4" class="tm"/>
<text transform="translate(239.8 140.7) rotate(-90)" class="tk" text-anchor="middle">10<tspan dy="-0.9" class="sup">1</tspan></text>
<line x1="241.8" y1="140.9" x2="243" y2="140.9" class="tm"/>
<text transform="translate(239.8 125.2) rotate(-90)" class="tk" text-anchor="middle">10<tspan dy="-0.9" class="sup">2</tspan></text>
<line x1="241.8" y1="125.4" x2="243" y2="125.4" class="tm"/>
<text transform="translate(239.8 109.7) rotate(-90)" class="tk" text-anchor="middle">10<tspan dy="-0.9" class="sup">3</tspan></text>
<line x1="241.8" y1="109.9" x2="243" y2="109.9" class="tm"/>
<text transform="translate(239.8 96.7) rotate(-90)" class="tk" text-anchor="middle">10<tspan dy="-0.9" class="sup">4</tspan></text>
<line x1="241.8" y1="94.4" x2="243" y2="94.4" class="tm"/>
<path d="M242.4 156.4 L284.3 156.4 L284.63 156.38 L285.09 156.4 L285.63 156.38 L286.2 156.06 L286.75 155.3 L287.31 153.98 L287.75 152.2 L288.29 150.16 L289.2 148.04 L289.26 146 L289.48 144.04 L290.1 142.05 L289.81 140.03 L290.23 138.01 L289.94 136 L290.26 134 L290.26 131.99 L290.69 129.98 L290.76 127.98 L291.02 126 L291.42 123.73 L291.9 121.17 L292.1 118.77 L292.65 116.99 L293.1 116.3 L293.55 116.99 L294.06 118.77 L294.43 121.17 L294.69 123.73 L295.42 126 L295.6 127.98 L295.96 129.98 L295.88 131.99 L296.25 134 L296.43 136 L296.75 138.01 L296.56 140.03 L296.84 142.05 L297.15 144.04 L297.34 146 L298.17 148.04 L299 150.16 L299.67 152.2 L300.56 153.98 L301.35 155.3 L302.15 156.06 L303 156.38 L303.81 156.4 L304.51 156.38 L305 156.4 L318.2 156.4 Z" fill="#4e4e4e" stroke="#353535" stroke-width="0.6" stroke-linejoin="round"/>
<path d="M242.4 156.4 L288.78 156.4 L289.71 155.41 L290.18 154.43 L290.46 153.44 L290.74 152.46 L291.01 151.47 L290.96 150.49 L291.34 149.5 L291.25 148.52 L291.43 147.53 L291.65 146.55 L291.67 145.56 L291.8 144.58 L292.15 143.59 L292.14 142.61 L292.03 141.62 L292.24 140.64 L292.22 139.66 L292.59 138.67 L292.53 137.69 L292.61 136.7 L292.62 135.72 L292.91 134.73 L293.09 133.75 L292.97 132.76 L293.11 131.78 L293.5 130.79 L293.51 129.81 L293.68 128.82 L293.77 127.84 L293.71 126.85 L293.86 125.87 L294.08 124.88 L294.22 123.9 L294.06 122.91 L294.26 121.92 L294.61 120.94 L294.57 119.95 L295.01 118.97 L295.23 117.98 L295.5 117 L295.75 117.98 L296.05 118.97 L296.2 119.95 L296.44 120.94 L296.45 121.92 L296.6 122.91 L296.93 123.9 L297.15 124.88 L297.24 125.87 L297.15 126.85 L297.45 127.84 L297.4 128.82 L297.48 129.81 L297.8 130.79 L297.91 131.78 L297.69 132.76 L297.88 133.75 L298.13 134.73 L298.29 135.72 L298.27 136.7 L298.52 137.69 L298.47 138.67 L298.6 139.66 L298.64 140.64 L299.04 141.62 L299.25 142.61 L299.33 143.59 L299.17 144.58 L299.42 145.56 L299.58 146.55 L299.96 147.53 L300.06 148.52 L300.45 149.5 L300.48 150.49 L300.65 151.47 L301.1 152.46 L301.73 153.44 L302.36 154.43 L303.41 155.41 L305.02 156.4 L318.2 156.4" fill="none" stroke="#d9d9d9" stroke-width="0.85" stroke-linejoin="round"/>
<rect x="241.8" y="94.4" width="77" height="62" fill="none" stroke="#383838" stroke-width="1.35"/>
<text x="337.5" y="160.9" class="tk2" text-anchor="middle">10<tspan dy="-1.1" class="sup">0</tspan></text>
<line x1="336.9" y1="155.3" x2="336.9" y2="154.1" class="tm"/>
<text x="357.3" y="160.9" class="tk2" text-anchor="middle">10<tspan dy="-1.1" class="sup">1</tspan></text>
<line x1="356.7" y1="155.3" x2="356.7" y2="154.1" class="tm"/>
<text x="377.1" y="160.9" class="tk2" text-anchor="middle">10<tspan dy="-1.1" class="sup">2</tspan></text>
<line x1="376.5" y1="155.3" x2="376.5" y2="154.1" class="tm"/>
<text x="396.9" y="160.9" class="tk2" text-anchor="middle">10<tspan dy="-1.1" class="sup">3</tspan></text>
<line x1="396.3" y1="155.3" x2="396.3" y2="154.1" class="tm"/>
<text x="416.7" y="160.9" class="tk2" text-anchor="middle">10<tspan dy="-1.1" class="sup">4</tspan></text>
<line x1="416.1" y1="155.3" x2="416.1" y2="154.1" class="tm"/>
<text x="377" y="164.3" class="tk" text-anchor="middle">FL1-H</text>
<text transform="translate(334.9 155.1) rotate(-90)" class="tk" text-anchor="middle">10<tspan dy="-0.9" class="sup">0</tspan></text>
<line x1="336.9" y1="155.3" x2="338.1" y2="155.3" class="tm"/>
<text transform="translate(334.9 140.85) rotate(-90)" class="tk" text-anchor="middle">10<tspan dy="-0.9" class="sup">1</tspan></text>
<line x1="336.9" y1="141.05" x2="338.1" y2="141.05" class="tm"/>
<text transform="translate(334.9 126.6) rotate(-90)" class="tk" text-anchor="middle">10<tspan dy="-0.9" class="sup">2</tspan></text>
<line x1="336.9" y1="126.8" x2="338.1" y2="126.8" class="tm"/>
<text transform="translate(334.9 112.35) rotate(-90)" class="tk" text-anchor="middle">10<tspan dy="-0.9" class="sup">3</tspan></text>
<line x1="336.9" y1="112.55" x2="338.1" y2="112.55" class="tm"/>
<text transform="translate(334.9 100.6) rotate(-90)" class="tk" text-anchor="middle">10<tspan dy="-0.9" class="sup">4</tspan></text>
<line x1="336.9" y1="98.3" x2="338.1" y2="98.3" class="tm"/>
<path d="M337.5 155.3 L377.8 155.3 L378.12 155.23 L378.56 155.18 L379.08 155.06 L379.66 154.76 L380.25 154.2 L380.9 153.34 L381.45 152.26 L382.4 150.98 L383.09 149.55 L383.48 148 L383.85 146.29 L384.24 144.4 L384.78 142.39 L384.86 140.33 L385.39 138.3 L385.6 136.21 L386 134.03 L385.83 131.86 L386.2 129.81 L386.41 128 L386.89 126.28 L387.09 124.59 L387.2 123.12 L387.69 122.09 L388 121.7 L388.35 122.09 L388.75 123.12 L388.92 124.59 L389.44 126.28 L389.82 128 L390.54 129.81 L390.8 131.86 L391.19 134.03 L391.52 136.21 L392.11 138.3 L392.52 140.33 L392.76 142.39 L393.1 144.4 L393.34 146.29 L393.52 148 L394.14 149.55 L395.27 150.98 L396.19 152.26 L396.97 153.34 L397.85 154.2 L398.75 154.76 L399.71 155.06 L400.64 155.18 L401.44 155.23 L402 155.3 L415.5 155.3 Z" fill="#4e4e4e" stroke="#353535" stroke-width="0.6" stroke-linejoin="round"/>
<path d="M337.5 155.3 L384.6 155.3 L385.6 154.3 L386.1 153.3 L386.4 152.29 L386.7 151.29 L386.74 150.29 L386.85 149.28 L387.08 148.28 L387.25 147.28 L387.43 146.28 L387.84 145.28 L387.7 144.27 L387.84 143.27 L388.17 142.27 L388.17 141.27 L388.39 140.26 L388.29 139.26 L388.3 138.26 L388.66 137.25 L388.68 136.25 L388.83 135.25 L388.95 134.25 L389.14 133.25 L389.08 132.24 L389.15 131.24 L389.52 130.24 L389.56 129.24 L389.49 128.23 L389.67 127.23 L389.83 126.23 L389.73 125.23 L389.96 124.22 L390.25 123.22 L390.32 122.22 L390.54 121.22 L390.56 120.21 L390.5 119.21 L390.95 118.21 L391.22 117.21 L391.51 116.2 L391.8 115.2 L392.09 116.2 L392.51 117.21 L392.58 118.21 L392.76 119.21 L393.24 120.21 L393.19 121.22 L393.51 122.22 L393.51 123.22 L393.6 124.22 L393.59 125.23 L394.04 126.23 L393.94 127.23 L394.09 128.23 L394.21 129.24 L394.22 130.24 L394.5 131.24 L394.76 132.24 L394.92 133.25 L394.68 134.25 L395.02 135.25 L395.06 136.25 L395.45 137.25 L395.5 138.26 L395.58 139.26 L395.9 140.26 L395.74 141.27 L395.88 142.27 L396.28 143.27 L396.2 144.27 L396.62 145.28 L396.69 146.28 L396.88 147.28 L397.51 148.28 L397.51 149.28 L397.74 150.29 L398.2 151.29 L398.92 152.29 L399.64 153.3 L400.84 154.3 L402.68 155.3 L415.5 155.3" fill="none" stroke="#d9d9d9" stroke-width="0.85" stroke-linejoin="round"/>
<rect x="336.9" y="98.3" width="79.2" height="57" fill="none" stroke="#383838" stroke-width="1.35"/>
<text x="437.5" y="160.2" class="tk2" text-anchor="middle">10<tspan dy="-1.1" class="sup">0</tspan></text>
<line x1="436.9" y1="154.6" x2="436.9" y2="153.4" class="tm"/>
<text x="456.33" y="160.2" class="tk2" text-anchor="middle">10<tspan dy="-1.1" class="sup">1</tspan></text>
<line x1="455.73" y1="154.6" x2="455.73" y2="153.4" class="tm"/>
<text x="475.15" y="160.2" class="tk2" text-anchor="middle">10<tspan dy="-1.1" class="sup">2</tspan></text>
<line x1="474.55" y1="154.6" x2="474.55" y2="153.4" class="tm"/>
<text x="493.98" y="160.2" class="tk2" text-anchor="middle">10<tspan dy="-1.1" class="sup">3</tspan></text>
<line x1="493.38" y1="154.6" x2="493.38" y2="153.4" class="tm"/>
<text x="512.8" y="160.2" class="tk2" text-anchor="middle">10<tspan dy="-1.1" class="sup">4</tspan></text>
<line x1="512.2" y1="154.6" x2="512.2" y2="153.4" class="tm"/>
<text x="475.05" y="163.6" class="tk" text-anchor="middle">FL1-H</text>
<text transform="translate(434.9 154.4) rotate(-90)" class="tk" text-anchor="middle">10<tspan dy="-0.9" class="sup">0</tspan></text>
<line x1="436.9" y1="154.6" x2="438.1" y2="154.6" class="tm"/>
<text transform="translate(434.9 139.38) rotate(-90)" class="tk" text-anchor="middle">10<tspan dy="-0.9" class="sup">1</tspan></text>
<line x1="436.9" y1="139.57" x2="438.1" y2="139.57" class="tm"/>
<text transform="translate(434.9 124.35) rotate(-90)" class="tk" text-anchor="middle">10<tspan dy="-0.9" class="sup">2</tspan></text>
<line x1="436.9" y1="124.55" x2="438.1" y2="124.55" class="tm"/>
<text transform="translate(434.9 109.33) rotate(-90)" class="tk" text-anchor="middle">10<tspan dy="-0.9" class="sup">3</tspan></text>
<line x1="436.9" y1="109.53" x2="438.1" y2="109.53" class="tm"/>
<text transform="translate(434.9 96.8) rotate(-90)" class="tk" text-anchor="middle">10<tspan dy="-0.9" class="sup">4</tspan></text>
<line x1="436.9" y1="94.5" x2="438.1" y2="94.5" class="tm"/>
<path d="M437.5 154.6 L471.7 154.6 L472.02 154.59 L472.45 154.6 L472.98 154.59 L473.55 154.36 L474.15 153.8 L474.82 152.87 L475.58 151.66 L476.36 150.22 L477.19 148.65 L477.82 147 L478.13 145.24 L478.52 143.32 L478.35 141.29 L478.7 139.23 L479.28 137.2 L479.09 135.13 L479.43 132.99 L479.78 130.85 L479.93 128.83 L480.37 127 L480.48 125.2 L480.97 123.38 L481.74 121.78 L481.92 120.64 L482.3 120.2 L482.66 120.64 L482.85 121.78 L483.58 123.38 L483.52 125.2 L484.2 127 L484.21 128.83 L484.3 130.85 L484.12 132.99 L484.2 135.13 L484.78 137.2 L484.82 139.23 L485.23 141.29 L486.01 143.32 L486.56 145.24 L486.72 147 L487.82 148.65 L488.32 150.22 L489.06 151.66 L489.85 152.87 L490.65 153.8 L491.55 154.36 L492.55 154.59 L493.54 154.6 L494.4 154.59 L495 154.6 L511.6 154.6 Z" fill="#4e4e4e" stroke="#353535" stroke-width="0.6" stroke-linejoin="round"/>
<path d="M437.5 154.6 L479.4 154.6 L480.57 153.45 L481.15 152.29 L481.5 151.14 L481.85 149.99 L482.18 148.84 L482.42 147.69 L482.35 146.53 L482.55 145.38 L482.71 144.23 L482.83 143.07 L483.12 141.92 L483.34 140.77 L483.44 139.62 L483.62 138.47 L483.44 137.31 L483.92 136.16 L484.09 135.01 L483.91 133.85 L484.03 132.7 L484.49 131.55 L484.56 130.4 L484.59 129.25 L484.81 128.09 L484.77 126.94 L484.91 125.79 L485.16 124.63 L485.11 123.48 L485.22 122.33 L485.41 121.18 L485.48 120.03 L485.88 118.87 L486.02 117.72 L485.82 116.57 L486.08 115.41 L486.15 114.26 L486.35 113.11 L486.73 111.96 L487.07 110.81 L487.46 109.65 L487.8 108.5 L488.16 109.65 L488.36 110.81 L489.08 111.96 L489.09 113.11 L489.25 114.26 L489.73 115.41 L489.6 116.57 L490.08 117.72 L489.94 118.87 L490.38 120.03 L490.44 121.18 L490.33 122.33 L490.78 123.48 L490.87 124.63 L491.02 125.79 L491.17 126.94 L491.2 128.09 L491.65 129.25 L491.51 130.4 L491.94 131.55 L491.89 132.7 L491.98 133.85 L492.3 135.01 L492.37 136.16 L492.85 137.31 L493.08 138.47 L493.07 139.62 L493.08 140.77 L493.4 141.92 L493.64 143.07 L493.97 144.23 L494.26 145.38 L494.74 146.53 L495.24 147.69 L495.57 148.84 L495.8 149.99 L496.7 151.14 L497.6 152.29 L499.1 153.45 L501.4 154.6 L511.6 154.6" fill="none" stroke="#d9d9d9" stroke-width="0.85" stroke-linejoin="round"/>
<rect x="436.9" y="94.5" width="75.3" height="60.1" fill="none" stroke="#383838" stroke-width="1.35"/>
<text x="52.6" y="240.7" class="tk2" text-anchor="middle">10<tspan dy="-1.1" class="sup">0</tspan></text>
<line x1="52" y1="235.1" x2="52" y2="233.9" class="tm"/>
<text x="72.25" y="240.7" class="tk2" text-anchor="middle">10<tspan dy="-1.1" class="sup">1</tspan></text>
<line x1="71.65" y1="235.1" x2="71.65" y2="233.9" class="tm"/>
<text x="91.9" y="240.7" class="tk2" text-anchor="middle">10<tspan dy="-1.1" class="sup">2</tspan></text>
<line x1="91.3" y1="235.1" x2="91.3" y2="233.9" class="tm"/>
<text x="111.55" y="240.7" class="tk2" text-anchor="middle">10<tspan dy="-1.1" class="sup">3</tspan></text>
<line x1="110.95" y1="235.1" x2="110.95" y2="233.9" class="tm"/>
<text x="131.2" y="240.7" class="tk2" text-anchor="middle">10<tspan dy="-1.1" class="sup">4</tspan></text>
<line x1="130.6" y1="235.1" x2="130.6" y2="233.9" class="tm"/>
<text x="91.8" y="244.1" class="tk" text-anchor="middle">FL1-H</text>
<text transform="translate(50 234.9) rotate(-90)" class="tk" text-anchor="middle">10<tspan dy="-0.9" class="sup">0</tspan></text>
<line x1="52" y1="235.1" x2="53.2" y2="235.1" class="tm"/>
<text transform="translate(50 220.78) rotate(-90)" class="tk" text-anchor="middle">10<tspan dy="-0.9" class="sup">1</tspan></text>
<line x1="52" y1="220.97" x2="53.2" y2="220.97" class="tm"/>
<text transform="translate(50 206.65) rotate(-90)" class="tk" text-anchor="middle">10<tspan dy="-0.9" class="sup">2</tspan></text>
<line x1="52" y1="206.85" x2="53.2" y2="206.85" class="tm"/>
<text transform="translate(50 192.53) rotate(-90)" class="tk" text-anchor="middle">10<tspan dy="-0.9" class="sup">3</tspan></text>
<line x1="52" y1="192.72" x2="53.2" y2="192.72" class="tm"/>
<text transform="translate(50 180.9) rotate(-90)" class="tk" text-anchor="middle">10<tspan dy="-0.9" class="sup">4</tspan></text>
<line x1="52" y1="178.6" x2="53.2" y2="178.6" class="tm"/>
<path d="M52.6 235.1 L100.3 235.1 L100.66 235.09 L101.18 235.1 L101.76 235.1 L102.32 234.86 L102.75 234.2 L103.02 233.05 L103.1 231.52 L103.58 229.75 L103.36 227.86 L103.46 226 L103.89 224.15 L104.27 222.21 L104.34 220.23 L104.74 218.21 L104.74 216.2 L105.16 214.15 L104.89 212.05 L104.89 209.95 L104.96 207.91 L105.34 206 L105.79 203.99 L106.09 201.83 L106.65 199.87 L107.31 198.45 L107.9 197.9 L108.48 198.45 L109.15 199.87 L109.48 201.83 L110.19 203.99 L110.82 206 L111.07 207.91 L110.88 209.95 L111.38 212.05 L111.24 214.15 L111.69 216.2 L111.56 218.21 L111.64 220.23 L112 222.21 L112.41 224.15 L112.52 226 L113.16 227.86 L113.56 229.75 L113.95 231.52 L114.64 233.05 L115.35 234.2 L116.24 234.86 L117.3 235.1 L118.39 235.1 L119.34 235.09 L120 235.1 L130 235.1 Z" fill="#4e4e4e" stroke="#353535" stroke-width="0.6" stroke-linejoin="round"/>
<path d="M52.6 235.1 L101.3 235.1 L102.3 234.2 L102.8 233.29 L103.1 232.39 L103.4 231.49 L103.4 230.59 L103.6 229.69 L103.91 228.78 L103.97 227.88 L104.36 226.98 L104.35 226.07 L104.3 225.17 L104.69 224.27 L104.54 223.37 L105.01 222.47 L104.9 221.56 L105.1 220.66 L105.16 219.76 L105.18 218.85 L105.52 217.95 L105.44 217.05 L105.44 216.15 L105.84 215.25 L105.73 214.34 L105.92 213.44 L106.18 212.54 L106.21 211.63 L106.41 210.73 L106.48 209.83 L106.47 208.93 L106.58 208.03 L106.61 207.12 L106.65 206.22 L106.99 205.32 L106.96 204.41 L107.24 203.51 L107.39 202.61 L107.58 201.71 L107.84 200.81 L108.21 199.9 L108.5 199 L108.82 199.9 L109.15 200.81 L109.42 201.71 L109.95 202.61 L109.8 203.51 L110.03 204.41 L110.08 205.32 L110.3 206.22 L110.33 207.12 L110.83 208.03 L110.9 208.93 L111.08 209.83 L111.07 210.73 L111.08 211.63 L111.33 212.54 L111.68 213.44 L111.54 214.34 L111.85 215.25 L111.77 216.15 L111.9 217.05 L112.14 217.95 L112.38 218.85 L112.56 219.76 L112.81 220.66 L112.75 221.56 L113.15 222.47 L113.21 223.37 L113.59 224.27 L113.36 225.17 L113.69 226.07 L114.18 226.98 L114.35 227.88 L114.86 228.78 L115 229.69 L115.43 230.59 L115.7 231.49 L116.51 232.39 L117.32 233.29 L118.67 234.2 L120.74 235.1 L130 235.1" fill="none" stroke="#d9d9d9" stroke-width="0.85" stroke-linejoin="round"/>
<rect x="52" y="178.6" width="78.6" height="56.5" fill="none" stroke="#383838" stroke-width="1.35"/>
<text x="145.2" y="240.8" class="tk2" text-anchor="middle">10<tspan dy="-1.1" class="sup">0</tspan></text>
<line x1="144.6" y1="235.2" x2="144.6" y2="234" class="tm"/>
<text x="165.82" y="240.8" class="tk2" text-anchor="middle">10<tspan dy="-1.1" class="sup">1</tspan></text>
<line x1="165.22" y1="235.2" x2="165.22" y2="234" class="tm"/>
<text x="186.45" y="240.8" class="tk2" text-anchor="middle">10<tspan dy="-1.1" class="sup">2</tspan></text>
<line x1="185.85" y1="235.2" x2="185.85" y2="234" class="tm"/>
<text x="207.07" y="240.8" class="tk2" text-anchor="middle">10<tspan dy="-1.1" class="sup">3</tspan></text>
<line x1="206.47" y1="235.2" x2="206.47" y2="234" class="tm"/>
<text x="227.7" y="240.8" class="tk2" text-anchor="middle">10<tspan dy="-1.1" class="sup">4</tspan></text>
<line x1="227.1" y1="235.2" x2="227.1" y2="234" class="tm"/>
<text x="186.35" y="244.2" class="tk" text-anchor="middle">FL1-H</text>
<text transform="translate(142.6 235) rotate(-90)" class="tk" text-anchor="middle">10<tspan dy="-0.9" class="sup">0</tspan></text>
<line x1="144.6" y1="235.2" x2="145.8" y2="235.2" class="tm"/>
<text transform="translate(142.6 221.18) rotate(-90)" class="tk" text-anchor="middle">10<tspan dy="-0.9" class="sup">1</tspan></text>
<line x1="144.6" y1="221.38" x2="145.8" y2="221.38" class="tm"/>
<text transform="translate(142.6 207.35) rotate(-90)" class="tk" text-anchor="middle">10<tspan dy="-0.9" class="sup">2</tspan></text>
<line x1="144.6" y1="207.55" x2="145.8" y2="207.55" class="tm"/>
<text transform="translate(142.6 193.53) rotate(-90)" class="tk" text-anchor="middle">10<tspan dy="-0.9" class="sup">3</tspan></text>
<line x1="144.6" y1="193.72" x2="145.8" y2="193.72" class="tm"/>
<text transform="translate(142.6 182.2) rotate(-90)" class="tk" text-anchor="middle">10<tspan dy="-0.9" class="sup">4</tspan></text>
<line x1="144.6" y1="179.9" x2="145.8" y2="179.9" class="tm"/>
<path d="M145.2 235.2 L193.9 235.2 L194.25 235.18 L194.74 235.2 L195.31 235.16 L195.88 234.93 L196.35 234.4 L196.73 233.53 L197.06 232.4 L197.12 231.07 L197.87 229.58 L197.96 228 L198.31 226.28 L198.39 224.39 L198.78 222.38 L199.19 220.33 L199.63 218.3 L199.63 216.21 L199.59 214.02 L200.01 211.85 L199.98 209.8 L200.16 208 L200.41 206.32 L200.99 204.67 L201.88 203.26 L202.27 202.27 L202.8 201.9 L203.27 202.27 L203.54 203.26 L204.18 204.67 L204.63 206.32 L204.88 208 L205.43 209.8 L205.82 211.85 L206.09 214.02 L206.3 216.21 L206.3 218.3 L206.42 220.33 L206.71 222.38 L206.77 224.39 L206.95 226.28 L207.74 228 L208.15 229.58 L209.42 231.07 L210.34 232.4 L211.4 233.53 L212.35 234.4 L213.21 234.93 L214.07 235.16 L214.86 235.2 L215.52 235.18 L216 235.2 L226.5 235.2 Z" fill="#4e4e4e" stroke="#353535" stroke-width="0.6" stroke-linejoin="round"/>
<path d="M145.2 235.2 L196.3 235.2 L197.3 234.33 L197.8 233.46 L198.1 232.6 L198.4 231.73 L198.66 230.86 L198.6 229.99 L198.91 229.13 L199.02 228.26 L199.22 227.39 L199.5 226.52 L199.32 225.66 L199.68 224.79 L199.79 223.92 L199.81 223.06 L199.87 222.19 L200.17 221.32 L200.23 220.45 L200.18 219.59 L200.38 218.72 L200.61 217.85 L200.58 216.98 L200.75 216.12 L200.78 215.25 L200.8 214.38 L201.1 213.51 L201.22 212.64 L201.27 211.78 L201.24 210.91 L201.39 210.04 L201.47 209.18 L201.56 208.31 L201.78 207.44 L202.08 206.57 L202.03 205.7 L202.02 204.84 L202.22 203.97 L202.79 203.1 L203.09 202.24 L203.21 201.37 L203.5 200.5 L203.84 201.37 L204.03 202.24 L204.48 203.1 L204.74 203.97 L205.02 204.84 L205.31 205.7 L205.15 206.57 L205.43 207.44 L205.53 208.31 L205.86 209.18 L205.78 210.04 L206.06 210.91 L206.13 211.78 L206.27 212.64 L206.58 213.51 L206.79 214.38 L206.86 215.25 L207.05 216.12 L206.97 216.98 L207.44 217.85 L207.5 218.72 L207.8 219.59 L207.7 220.45 L208.18 221.32 L208.35 222.19 L208.2 223.06 L208.43 223.92 L208.7 224.79 L208.85 225.66 L209 226.52 L209.5 227.39 L209.7 228.26 L210.18 229.13 L210.24 229.99 L210.77 230.86 L211.1 231.73 L211.96 232.6 L212.81 233.46 L214.23 234.33 L216.42 235.2 L226.5 235.2" fill="none" stroke="#d9d9d9" stroke-width="0.85" stroke-linejoin="round"/>
<rect x="144.6" y="179.9" width="82.5" height="55.3" fill="none" stroke="#383838" stroke-width="1.35"/>
<text x="241.7" y="239.4" class="tk2" text-anchor="middle">10<tspan dy="-1.1" class="sup">0</tspan></text>
<line x1="241.1" y1="233.8" x2="241.1" y2="232.6" class="tm"/>
<text x="261.24" y="239.4" class="tk2" text-anchor="middle">10<tspan dy="-1.1" class="sup">1</tspan></text>
<line x1="260.64" y1="233.8" x2="260.64" y2="232.6" class="tm"/>
<text x="280.78" y="239.4" class="tk2" text-anchor="middle">10<tspan dy="-1.1" class="sup">2</tspan></text>
<line x1="280.18" y1="233.8" x2="280.18" y2="232.6" class="tm"/>
<text x="300.31" y="239.4" class="tk2" text-anchor="middle">10<tspan dy="-1.1" class="sup">3</tspan></text>
<line x1="299.71" y1="233.8" x2="299.71" y2="232.6" class="tm"/>
<text x="319.85" y="239.4" class="tk2" text-anchor="middle">10<tspan dy="-1.1" class="sup">4</tspan></text>
<line x1="319.25" y1="233.8" x2="319.25" y2="232.6" class="tm"/>
<text x="280.68" y="242.8" class="tk" text-anchor="middle">FL1-H</text>
<text transform="translate(239.1 233.6) rotate(-90)" class="tk" text-anchor="middle">10<tspan dy="-0.9" class="sup">0</tspan></text>
<line x1="241.1" y1="233.8" x2="242.3" y2="233.8" class="tm"/>
<text transform="translate(239.1 220.45) rotate(-90)" class="tk" text-anchor="middle">10<tspan dy="-0.9" class="sup">1</tspan></text>
<line x1="241.1" y1="220.65" x2="242.3" y2="220.65" class="tm"/>
<text transform="translate(239.1 207.3) rotate(-90)" class="tk" text-anchor="middle">10<tspan dy="-0.9" class="sup">2</tspan></text>
<line x1="241.1" y1="207.5" x2="242.3" y2="207.5" class="tm"/>
<text transform="translate(239.1 194.15) rotate(-90)" class="tk" text-anchor="middle">10<tspan dy="-0.9" class="sup">3</tspan></text>
<line x1="241.1" y1="194.35" x2="242.3" y2="194.35" class="tm"/>
<text transform="translate(239.1 183.5) rotate(-90)" class="tk" text-anchor="middle">10<tspan dy="-0.9" class="sup">4</tspan></text>
<line x1="241.1" y1="181.2" x2="242.3" y2="181.2" class="tm"/>
<path d="M241.7 233.8 L284.9 233.8 L285.23 233.8 L285.69 233.8 L286.23 233.8 L286.8 233.7 L287.35 233 L287.9 231.74 L288.4 230.02 L289.29 228.04 L289.82 225.98 L290.07 224 L290.57 222.11 L290.66 220.2 L290.72 218.26 L290.6 216.29 L290.61 214.3 L291.12 212.26 L291.33 210.17 L291.34 208.06 L291.64 205.99 L291.98 204 L292.21 201.81 L292.89 199.4 L293.31 197.17 L293.76 195.54 L294.2 194.9 L294.59 195.54 L294.89 197.17 L295.1 199.4 L295.65 201.81 L295.86 204 L296.38 205.99 L296.4 208.06 L296.81 210.17 L297 212.26 L297.4 214.3 L297.77 216.29 L297.81 218.26 L298.06 220.2 L298.58 222.11 L298.8 224 L299.35 225.98 L299.62 228.04 L300.06 230.02 L300.78 231.74 L301.35 233 L302.06 233.7 L302.9 233.8 L303.74 233.8 L304.48 233.8 L305 233.8 L318.65 233.8 Z" fill="#4e4e4e" stroke="#353535" stroke-width="0.6" stroke-linejoin="round"/>
<path d="M241.7 233.8 L290.08 233.8 L291.01 232.93 L291.48 232.06 L291.76 231.18 L292.04 230.31 L292.28 229.44 L292.43 228.56 L292.35 227.69 L292.81 226.82 L292.81 225.95 L292.89 225.08 L293.18 224.2 L293.15 223.33 L293.14 222.46 L293.23 221.59 L293.42 220.71 L293.59 219.84 L293.8 218.97 L293.86 218.09 L293.99 217.22 L293.95 216.35 L294.01 215.48 L294.06 214.61 L294.23 213.73 L294.38 212.86 L294.6 211.99 L294.44 211.12 L294.79 210.24 L294.99 209.37 L294.77 208.5 L295.02 207.62 L295.3 206.75 L295.21 205.88 L295.53 205.01 L295.65 204.14 L295.5 203.26 L295.67 202.39 L296.13 201.52 L296.27 200.65 L296.53 199.77 L296.8 198.9 L297.07 199.77 L297.51 200.65 L297.62 201.52 L297.71 202.39 L297.93 203.26 L297.97 204.14 L298.23 205.01 L298.26 205.88 L298.35 206.75 L298.6 207.62 L298.61 208.5 L298.96 209.37 L299.12 210.24 L299.16 211.12 L299.09 211.99 L299.51 212.86 L299.54 213.73 L299.63 214.61 L299.68 215.48 L299.95 216.35 L299.94 217.22 L300.04 218.09 L300.11 218.97 L300.37 219.84 L300.29 220.71 L300.67 221.59 L300.85 222.46 L301.06 223.33 L301.11 224.2 L300.97 225.08 L301.52 225.95 L301.58 226.82 L302.17 227.69 L302.24 228.56 L302.38 229.44 L302.8 230.31 L303.48 231.18 L304.15 232.06 L305.28 232.93 L307 233.8 L318.65 233.8" fill="none" stroke="#d9d9d9" stroke-width="0.85" stroke-linejoin="round"/>
<rect x="241.1" y="181.2" width="78.15" height="52.6" fill="none" stroke="#383838" stroke-width="1.35"/>
<text x="334.3" y="240.7" class="tk2" text-anchor="middle">10<tspan dy="-1.1" class="sup">0</tspan></text>
<line x1="333.7" y1="235.1" x2="333.7" y2="233.9" class="tm"/>
<text x="355.83" y="240.7" class="tk2" text-anchor="middle">10<tspan dy="-1.1" class="sup">1</tspan></text>
<line x1="355.23" y1="235.1" x2="355.23" y2="233.9" class="tm"/>
<text x="377.35" y="240.7" class="tk2" text-anchor="middle">10<tspan dy="-1.1" class="sup">2</tspan></text>
<line x1="376.75" y1="235.1" x2="376.75" y2="233.9" class="tm"/>
<text x="398.88" y="240.7" class="tk2" text-anchor="middle">10<tspan dy="-1.1" class="sup">3</tspan></text>
<line x1="398.27" y1="235.1" x2="398.27" y2="233.9" class="tm"/>
<text x="420.4" y="240.7" class="tk2" text-anchor="middle">10<tspan dy="-1.1" class="sup">4</tspan></text>
<line x1="419.8" y1="235.1" x2="419.8" y2="233.9" class="tm"/>
<text x="377.25" y="244.1" class="tk" text-anchor="middle">FL1-H</text>
<text transform="translate(331.7 234.9) rotate(-90)" class="tk" text-anchor="middle">10<tspan dy="-0.9" class="sup">0</tspan></text>
<line x1="333.7" y1="235.1" x2="334.9" y2="235.1" class="tm"/>
<text transform="translate(331.7 221.58) rotate(-90)" class="tk" text-anchor="middle">10<tspan dy="-0.9" class="sup">1</tspan></text>
<line x1="333.7" y1="221.78" x2="334.9" y2="221.78" class="tm"/>
<text transform="translate(331.7 208.25) rotate(-90)" class="tk" text-anchor="middle">10<tspan dy="-0.9" class="sup">2</tspan></text>
<line x1="333.7" y1="208.45" x2="334.9" y2="208.45" class="tm"/>
<text transform="translate(331.7 194.93) rotate(-90)" class="tk" text-anchor="middle">10<tspan dy="-0.9" class="sup">3</tspan></text>
<line x1="333.7" y1="195.12" x2="334.9" y2="195.12" class="tm"/>
<text transform="translate(331.7 184.1) rotate(-90)" class="tk" text-anchor="middle">10<tspan dy="-0.9" class="sup">4</tspan></text>
<line x1="333.7" y1="181.8" x2="334.9" y2="181.8" class="tm"/>
<path d="M334.3 235.1 L379.9 235.1 L380.22 235.1 L380.66 235.1 L381.19 235.1 L381.77 234.92 L382.35 234.4 L382.99 233.54 L383.71 232.41 L384.46 231.07 L385.2 229.58 L385.7 228 L385.86 226.28 L386.1 224.39 L386.54 222.38 L386.84 220.33 L386.67 218.3 L386.81 216.21 L387.02 214.02 L387.55 211.85 L387.58 209.8 L387.93 208 L388.63 206.32 L388.96 204.67 L389.35 203.26 L390.02 202.27 L390.5 201.9 L390.91 202.27 L391.38 203.26 L391.38 204.67 L391.84 206.32 L392.35 208 L392.34 209.8 L392.47 211.85 L392.9 214.02 L393.04 216.21 L393.69 218.3 L393.64 220.33 L394.42 222.38 L394.7 224.39 L395.49 226.28 L396.02 228 L397.03 229.58 L397.93 231.07 L399.15 232.41 L400.26 233.54 L401.25 234.4 L402.15 234.92 L403.03 235.1 L403.84 235.1 L404.51 235.1 L405 235.1 L419.2 235.1 Z" fill="#4e4e4e" stroke="#353535" stroke-width="0.6" stroke-linejoin="round"/>
<path d="M334.3 235.1 L388.6 235.1 L389.6 234.25 L390.1 233.39 L390.4 232.53 L390.7 231.68 L390.97 230.82 L391.12 229.97 L391.06 229.12 L391.16 228.26 L391.34 227.41 L391.51 226.55 L391.69 225.69 L391.81 224.84 L391.82 223.99 L392.26 223.13 L392.03 222.28 L392.15 221.42 L392.63 220.56 L392.56 219.71 L392.53 218.85 L392.75 218 L393.11 217.15 L392.99 216.29 L393.15 215.44 L393.07 214.58 L393.45 213.72 L393.36 212.87 L393.55 212.01 L393.72 211.16 L393.86 210.31 L393.89 209.45 L393.93 208.59 L393.93 207.74 L394.29 206.88 L394.41 206.03 L394.34 205.18 L394.52 204.32 L395.04 203.47 L395.11 202.61 L395.51 201.75 L395.8 200.9 L396.16 201.75 L396.5 202.61 L396.82 203.47 L397.21 204.32 L397.33 205.18 L397.58 206.03 L397.64 206.88 L397.69 207.74 L397.92 208.59 L398.11 209.45 L398.4 210.31 L398.61 211.16 L398.65 212.01 L398.67 212.87 L399 213.72 L399.33 214.58 L399.37 215.44 L399.33 216.29 L399.51 217.15 L400 218 L399.98 218.85 L400.06 219.71 L400.31 220.56 L400.51 221.42 L400.78 222.28 L401.04 223.13 L401.13 223.99 L401.23 224.84 L401.34 225.69 L401.65 226.55 L402.15 227.41 L402.52 228.26 L402.53 229.12 L403.08 229.97 L403.44 230.82 L403.8 231.68 L404.7 232.53 L405.6 233.39 L407.1 234.25 L409.4 235.1 L419.2 235.1" fill="none" stroke="#d9d9d9" stroke-width="0.85" stroke-linejoin="round"/>
<rect x="333.7" y="181.8" width="86.1" height="53.3" fill="none" stroke="#383838" stroke-width="1.35"/>
<text x="436.5" y="240.1" class="tk2" text-anchor="middle">10<tspan dy="-1.1" class="sup">0</tspan></text>
<line x1="435.9" y1="234.5" x2="435.9" y2="233.3" class="tm"/>
<text x="456.43" y="240.1" class="tk2" text-anchor="middle">10<tspan dy="-1.1" class="sup">1</tspan></text>
<line x1="455.82" y1="234.5" x2="455.82" y2="233.3" class="tm"/>
<text x="476.35" y="240.1" class="tk2" text-anchor="middle">10<tspan dy="-1.1" class="sup">2</tspan></text>
<line x1="475.75" y1="234.5" x2="475.75" y2="233.3" class="tm"/>
<text x="496.28" y="240.1" class="tk2" text-anchor="middle">10<tspan dy="-1.1" class="sup">3</tspan></text>
<line x1="495.68" y1="234.5" x2="495.68" y2="233.3" class="tm"/>
<text x="516.2" y="240.1" class="tk2" text-anchor="middle">10<tspan dy="-1.1" class="sup">4</tspan></text>
<line x1="515.6" y1="234.5" x2="515.6" y2="233.3" class="tm"/>
<text x="476.25" y="243.5" class="tk" text-anchor="middle">FL1-H</text>
<text transform="translate(433.9 234.3) rotate(-90)" class="tk" text-anchor="middle">10<tspan dy="-0.9" class="sup">0</tspan></text>
<line x1="435.9" y1="234.5" x2="437.1" y2="234.5" class="tm"/>
<text transform="translate(433.9 220.12) rotate(-90)" class="tk" text-anchor="middle">10<tspan dy="-0.9" class="sup">1</tspan></text>
<line x1="435.9" y1="220.32" x2="437.1" y2="220.32" class="tm"/>
<text transform="translate(433.9 205.95) rotate(-90)" class="tk" text-anchor="middle">10<tspan dy="-0.9" class="sup">2</tspan></text>
<line x1="435.9" y1="206.15" x2="437.1" y2="206.15" class="tm"/>
<text transform="translate(433.9 191.78) rotate(-90)" class="tk" text-anchor="middle">10<tspan dy="-0.9" class="sup">3</tspan></text>
<line x1="435.9" y1="191.98" x2="437.1" y2="191.98" class="tm"/>
<text transform="translate(433.9 180.1) rotate(-90)" class="tk" text-anchor="middle">10<tspan dy="-0.9" class="sup">4</tspan></text>
<line x1="435.9" y1="177.8" x2="437.1" y2="177.8" class="tm"/>
<path d="M436.5 234.5 L476.9 234.5 L477.22 234.5 L477.66 234.5 L478.19 234.5 L478.77 234.38 L479.35 233.7 L479.99 232.49 L480.77 230.85 L481.23 228.95 L482.2 226.95 L482.66 225 L483.26 223.08 L483.06 221.09 L483.29 219.06 L483.76 217.02 L484.06 215 L483.95 212.99 L484.19 210.96 L484.2 208.94 L484.25 206.94 L484.53 205 L484.99 202.83 L485.19 200.42 L485.87 198.19 L486.51 196.54 L487 195.9 L487.44 196.54 L488 198.19 L488.16 200.42 L488.63 202.83 L488.83 205 L489.09 206.94 L489.36 208.94 L489.49 210.96 L489.71 212.99 L489.64 215 L489.69 217.02 L489.94 219.06 L490.03 221.09 L490.48 223.08 L491.19 225 L492.02 226.95 L492.87 228.95 L493.98 230.85 L495.26 232.49 L496.25 233.7 L497.15 234.38 L498.03 234.5 L498.83 234.5 L499.51 234.5 L500 234.5 L515 234.5 Z" fill="#4e4e4e" stroke="#353535" stroke-width="0.6" stroke-linejoin="round"/>
<path d="M436.5 234.5 L486.56 234.5 L487.43 233.63 L487.86 232.77 L488.12 231.91 L488.38 231.04 L488.68 230.18 L488.83 229.31 L488.69 228.44 L488.77 227.58 L489.26 226.72 L489.14 225.85 L489.12 224.99 L489.58 224.12 L489.43 223.25 L489.74 222.39 L489.56 221.53 L489.97 220.66 L489.82 219.8 L490.04 218.93 L490.26 218.06 L490.06 217.2 L490.38 216.34 L490.54 215.47 L490.64 214.61 L490.63 213.74 L490.54 212.88 L490.76 212.01 L490.84 211.15 L490.78 210.28 L491.09 209.42 L491 208.55 L491.12 207.69 L491.44 206.82 L491.56 205.96 L491.38 205.09 L491.61 204.22 L491.94 203.36 L492.04 202.5 L492.13 201.63 L492.55 200.77 L492.8 199.9 L493.12 200.77 L493.32 201.63 L493.67 202.5 L494.12 203.36 L494.21 204.22 L494.48 205.09 L494.47 205.96 L494.58 206.82 L494.71 207.69 L495 208.55 L495.2 209.42 L495.35 210.28 L495.34 211.15 L495.51 212.01 L495.64 212.88 L495.91 213.74 L495.85 214.61 L496.23 215.47 L496.45 216.34 L496.51 217.2 L496.41 218.06 L496.9 218.93 L497.03 219.8 L497.02 220.66 L497.1 221.53 L497.34 222.39 L497.51 223.25 L497.6 224.12 L498.04 224.99 L497.97 225.85 L498.26 226.72 L498.84 227.58 L498.9 228.44 L499.23 229.31 L499.6 230.18 L500 231.04 L500.81 231.91 L501.62 232.77 L502.97 233.63 L505.04 234.5 L515 234.5" fill="none" stroke="#d9d9d9" stroke-width="0.85" stroke-linejoin="round"/>
<rect x="435.9" y="177.8" width="79.7" height="56.7" fill="none" stroke="#383838" stroke-width="1.35"/>
<text transform="matrix(0.11667 0 0 0.10300 84.23 9.45)" class="lbl">5</text>
<text transform="matrix(0.10926 0 0 0.10300 93.87 9.45)" class="lbl">min</text>
<text transform="matrix(0.12273 0 0 0.10300 171.82 8.1)" class="lbl">10</text>
<text transform="matrix(0.11358 0 0 0.10300 187.16 8.1)" class="lbl">min</text>
<text transform="matrix(0.12045 0 0 0.10300 264.04 8.1)" class="lbl">15</text>
<text transform="matrix(0.11173 0 0 0.10300 279.46 8.1)" class="lbl">min</text>
<text transform="matrix(0.11522 0 0 0.10300 360.54 8.1)" class="lbl">20</text>
<text transform="matrix(0.10556 0 0 0.10300 376.48 8.1)" class="lbl">min</text>
<text transform="matrix(0.11739 0 0 0.10300 457.33 8.1)" class="lbl">25</text>
<text transform="matrix(0.10926 0 0 0.10300 472.87 8.1)" class="lbl">min</text>
<text transform="matrix(0.11881 0 0 0.11692 10.11 51.4)" class="lbl">CHO</text>
<text transform="matrix(0.10793 0 0 0.11846 10.39 127.8)" class="lbl">WT</text>
<text transform="matrix(0.11969 0 0 0.11970 1.38 210.6)" class="lbl">A304V</text>
<text transform="matrix(0.10692 0 0 0.09846 70.07 52.9)" class="lbl">C4c</text>
<text transform="matrix(0.10000 0 0 0.08841 108.5 33.8)" class="lbl">C4d</text>
<text transform="matrix(0.10943 0 0 0.10462 443.25 131.4)" class="lbl">C4c</text>
<text transform="matrix(0.09884 0 0 0.09855 491.01 108.1)" class="lbl">C4d</text>
<text transform="matrix(0.11481 0 0 0.11571 56.33 263.7)" class="lbl">C4 fragment deposition</text>
<line x1="88.3" y1="49.5" x2="98.2" y2="49.5" stroke="#000" stroke-width="1.2"/><path d="M101.7 49.5 L97.7 51.1 L97.7 47.9 Z" fill="#000"/>
<line x1="120.2" y1="39.7" x2="115.36" y2="41.66" stroke="#000" stroke-width="1.2"/><path d="M112.3 42.9 L115.22 39.99 L116.42 42.96 Z" fill="#000"/>
<line x1="466.3" y1="127.4" x2="476" y2="127.4" stroke="#000" stroke-width="1.2"/><path d="M479.5 127.4 L475.5 129 L475.5 125.8 Z" fill="#000"/>
<line x1="503" y1="113.5" x2="497.03" y2="116.09" stroke="#000" stroke-width="1.2"/><path d="M494 117.4 L496.85 114.42 L498.12 117.36 Z" fill="#000"/>
<line x1="189.1" y1="259" x2="498.2" y2="259" stroke="#6e6e6e" stroke-width="1.7"/><path d="M502.2 259 L497.7 261.2 L497.7 256.8 Z" fill="#000"/>
</svg>
</body></html>
